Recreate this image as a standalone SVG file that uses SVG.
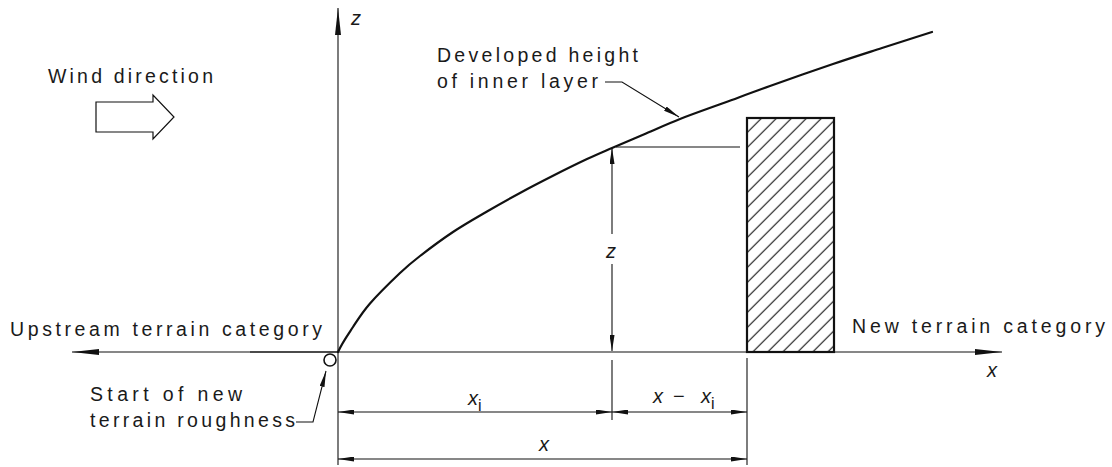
<svg xmlns="http://www.w3.org/2000/svg" width="1112" height="467" viewBox="0 0 1112 467">
<style>
  .txt { font-family: "Liberation Sans", Arial, sans-serif; font-size: 19.5px; fill: #1a1a1a; }
  .it { font-family: "Liberation Sans", Arial, sans-serif; font-size: 20px; font-style: italic; fill: #1a1a1a; }
  .sub { font-size: 16px; font-style: normal; }
  .thin { stroke: #111; stroke-width: 1.1; fill: none; }
  .thick { stroke: #111; stroke-width: 2.2; fill: none; stroke-linejoin: round; stroke-linecap: round; }
  .ax { marker-end: url(#axArrow); }
  .dim2 { marker-start: url(#dimArrow); marker-end: url(#dimArrow); }
  .dimE { marker-end: url(#dimArrow); }
</style>
<defs>
  <marker id="axArrow" viewBox="0 0 27 6" markerWidth="27" markerHeight="6" refX="27" refY="3" orient="auto-start-reverse" markerUnits="userSpaceOnUse">
    <path d="M0,0 L27,3 L0,6 z" fill="#111"/>
  </marker>
  <marker id="dimArrow" viewBox="0 0 16 5" markerWidth="16" markerHeight="5" refX="16" refY="2.5" orient="auto-start-reverse" markerUnits="userSpaceOnUse">
    <path d="M0,0 L16,2.5 L0,5 z" fill="#111"/>
  </marker>
  <pattern id="hatch" patternUnits="userSpaceOnUse" x="9.7" y="0" width="15" height="15">
    <path d="M0,15 L15,0 M-3,3 L3,-3 M12,18 L18,12" stroke="#111" stroke-width="1.1"/>
  </pattern>
</defs>
<rect width="1112" height="467" fill="#fff"/>

<g id="wind">
  <text class="txt" x="48" y="83" textLength="165" lengthAdjust="spacing">Wind direction</text>
  <polygon points="96,102 153,102 153,95 174,117 153,139 153,132 96,132" fill="#fff" stroke="#111" stroke-width="1.2"/>
</g>

<g id="axes">
  <line class="thin ax" x1="338" y1="465" x2="338" y2="8"/>
  <text class="it" x="351" y="25">z</text>
  <line class="thin ax" x1="338" y1="352" x2="1002" y2="352"/>
  <line class="thin ax" x1="338" y1="352" x2="72" y2="352"/>
  <line class="thin" x1="250" y1="352" x2="338" y2="352" stroke-width="1.8"/>
  <text class="it" x="987" y="377">x</text>
  <text class="txt" x="10" y="336" textLength="312" lengthAdjust="spacing">Upstream terrain category</text>
  <text class="txt" x="852" y="333" textLength="253" lengthAdjust="spacing">New terrain category</text>
</g>

<g id="origin">
  <circle cx="330" cy="360" r="6" fill="#fff" stroke="#111" stroke-width="1.6"/>
  <text class="txt" x="90" y="401" textLength="152" lengthAdjust="spacing">Start of new</text>
  <text class="txt" x="90" y="427" textLength="205" lengthAdjust="spacing">terrain roughness</text>
</g>

<g id="inner-layer">
  <path class="thick" d="M338,352 C342,343 347.67,335.08 353,327 C358.33,318.92 362.17,312.5 370,303.5 C377.83,294.5 391.67,280.92 400,273 C408.33,265.08 411.17,262.83 420,256 C428.83,249.17 441.83,239.42 453,232 C464.17,224.58 475.83,218 487,211.5 C498.17,205 509,198.95 520,193 C531,187.05 541.83,181.45 553,175.8 C564.17,170.15 577.17,163.73 587,159.1 C596.83,154.47 602.17,152.27 612,148 C621.83,143.73 634.67,138.33 646,133.5 C657.33,128.67 666.83,124.17 680,119 C693.17,113.83 710,108 725,102.5 C740,97 752,92.42 770,86 C788,79.58 814.33,70.33 833,64 C851.67,57.67 865.5,53.33 882,48 C898.5,42.67 915.33,37.33 932,32"/>
  <text class="txt" x="437" y="62" textLength="201" lengthAdjust="spacing">Developed height</text>
  <text class="txt" x="437" y="88" textLength="161" lengthAdjust="spacing">of inner layer</text>
</g>

<g id="building">
  <rect x="747" y="118" width="87" height="234" fill="url(#hatch)" stroke="#111" stroke-width="2.2"/>
</g>

<g id="connectors">
  <polyline class="thin dimE" points="605,82 622,82 679,117"/>
  <polyline class="thin dimE" points="296,422 313,422 326,371"/>
  <line class="thin" x1="616" y1="147" x2="740" y2="147"/>
  <line class="thin dimE" x1="612" y1="234" x2="612" y2="148"/>
  <line class="thin dimE" x1="612" y1="264" x2="612" y2="351"/>
  <text class="it" x="606" y="258">z</text>
  <line class="thin" x1="612" y1="360" x2="612" y2="420"/>
  <line class="thin" x1="747" y1="358" x2="747" y2="465"/>
  <line class="thin dim2" x1="338" y1="412" x2="612" y2="412"/>
  <line class="thin dim2" x1="612" y1="412" x2="747" y2="412"/>
  <line class="thin dim2" x1="338" y1="459" x2="747" y2="459"/>
  <text class="it" x="468" y="405">x<tspan class="sub" dy="6">i</tspan></text>
  <text class="it" y="403"><tspan x="653">x</tspan><tspan x="673" style="font-style:normal">−</tspan><tspan x="701">x</tspan><tspan class="sub" dy="6">i</tspan></text>
  <text class="it" x="539" y="451">x</text>
</g>
</svg>
